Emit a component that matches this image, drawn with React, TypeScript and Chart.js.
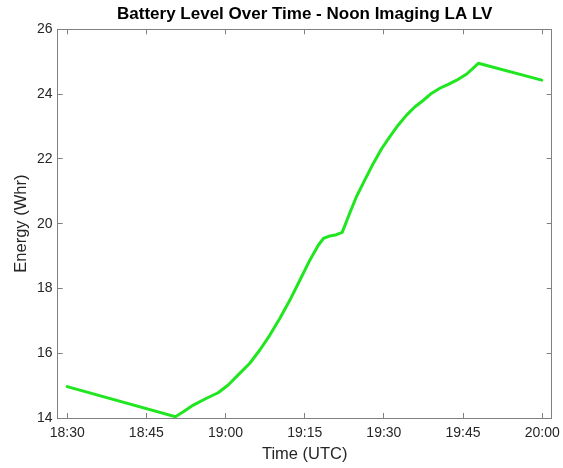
import React, { useEffect, useRef } from "react";
import { Chart, registerables } from "chart.js";

Chart.register(...registerables);

// Data
const times: string[] = [
  "18:30:00", "18:50:30", "18:52:00", "18:53:54", "18:56:24", "18:58:36",
  "19:00:30", "19:02:24", "19:04:36", "19:06:30", "19:08:24", "19:10:18",
  "19:12:12", "19:14:06", "19:16:00", "19:17:36", "19:18:36", "19:19:48",
  "19:21:00", "19:22:06", "19:23:36", "19:24:48", "19:26:24", "19:28:00",
  "19:29:36", "19:31:06", "19:32:42", "19:34:18", "19:35:54", "19:37:30",
  "19:39:00", "19:40:36", "19:42:12", "19:43:48", "19:45:42", "19:47:54",
  "19:59:54",
];
const energy: number[] = [
  14.97, 14.04, 14.19, 14.4, 14.61, 14.78,
  15.02, 15.33, 15.69, 16.1, 16.56, 17.08,
  17.64, 18.26, 18.88, 19.34, 19.55, 19.62,
  19.66, 19.73, 20.35, 20.83, 21.35, 21.86,
  22.32, 22.68, 23.04, 23.35, 23.61, 23.81,
  24.02, 24.18, 24.3, 24.43, 24.62, 24.95,
  24.43,
];
const xTickLabels: string[] = ["18:30", "18:45", "19:00", "19:15", "19:30", "19:45", "20:00"];
const yTicks: number[] = [14, 16, 18, 20, 22, 24, 26];
const xRange: string[] = ["18:28:12", "20:01:48"];
const yRange: number[] = [14, 26];

const toMin = (t: string): number => {
  const p = t.split(":").map(Number);
  return p[0] * 60 + p[1] + (p[2] || 0) / 60;
};
const fmt = (v: number): string => {
  const h = Math.floor(v / 60);
  const m = Math.round(v - h * 60);
  return `${h}:${String(m).padStart(2, "0")}`;
};

const FONT = "'Liberation Sans', Arial, Helvetica, sans-serif";
const AXIS_GRAY = "#808080";
const TEXT = "#262626";

export default function App() {
  const ref = useRef<HTMLCanvasElement | null>(null);
  useEffect(() => {
    if (!ref.current) return;
    const xTickVals = xTickLabels.map(toMin);
    const points = times.map((t, i) => ({ x: toMin(t), y: energy[i] }));
    const xmin = toMin(xRange[0]);
    const xmax = toMin(xRange[1]);
    const gridCommon = {
      drawOnChartArea: false,
      drawTicks: true,
      tickLength: -5,
      color: AXIS_GRAY,
      lineWidth: 1,
    };
    const borderCommon = { display: true, color: AXIS_GRAY, width: 1 };
    const setXTicks = (s: any) => {
      s.ticks = xTickVals.map((v) => ({ value: v }));
    };
    const setYTicks = (s: any) => {
      s.ticks = yTicks.map((v) => ({ value: v }));
    };
    const chart = new Chart(ref.current, {
      type: "line",
      data: {
        datasets: [
          {
            data: points,
            borderColor: "#1fe61f",
            borderWidth: 3,
            borderJoinStyle: "round",
            borderCapStyle: "round",
            pointRadius: 0,
            tension: 0,
            fill: false,
          },
        ],
      },
      options: {
        animation: false,
        responsive: false,
        devicePixelRatio: 1,
        layout: { padding: 0 },
        plugins: {
          legend: { display: false },
          tooltip: { enabled: false },
          title: {
            display: true,
            text: "Battery Level Over Time - Noon Imaging LA LV",
            fullSize: false,
            color: "#000",
            font: { family: FONT, size: 17, weight: "bold" },
            padding: { top: 3.8, bottom: 5.1 },
          },
        },
        scales: {
          x: {
            type: "linear",
            position: "bottom",
            min: xmin,
            max: xmax,
            afterBuildTicks: setXTicks,
            afterFit: (s: any) => {
              s.height = 50;
              s.paddingLeft = 0;
              s.paddingRight = 0;
            },
            grid: gridCommon,
            border: borderCommon,
            ticks: {
              autoSkip: false,
              maxRotation: 0,
              padding: 12.2,
              color: TEXT,
              font: { family: FONT, size: 14 },
              callback: (v: any) => fmt(Number(v)),
            },
            title: {
              display: true,
              text: "Time (UTC)",
              color: TEXT,
              font: { family: FONT, size: 16.5 },
              padding: { top: 0, bottom: 4 },
            },
          },
          x2: {
            type: "linear",
            position: "top",
            min: xmin,
            max: xmax,
            afterBuildTicks: setXTicks,
            afterFit: (s: any) => {
              s.height = 0;
              s.paddingLeft = 0;
              s.paddingRight = 0;
            },
            grid: gridCommon,
            border: borderCommon,
            ticks: { display: false },
          },
          y: {
            type: "linear",
            position: "left",
            min: yRange[0],
            max: yRange[1],
            afterBuildTicks: setYTicks,
            afterFit: (s: any) => {
              s.width = 57.7;
              s.paddingTop = 0;
              s.paddingBottom = 0;
            },
            grid: gridCommon,
            border: borderCommon,
            ticks: {
              padding: 10.2,
              color: TEXT,
              font: { family: FONT, size: 14 },
            },
            title: {
              display: true,
              text: "Energy (Whr)",
              color: TEXT,
              font: { family: FONT, size: 16.5 },
              padding: { top: 11.4, bottom: 0 },
            },
          },
          y2: {
            type: "linear",
            position: "right",
            min: yRange[0],
            max: yRange[1],
            afterBuildTicks: setYTicks,
            afterFit: (s: any) => {
              s.width = 11.3;
              s.paddingTop = 0;
              s.paddingBottom = 0;
            },
            grid: gridCommon,
            border: borderCommon,
            ticks: { display: false },
          },
        },
      },
    } as any);
    return () => chart.destroy();
  }, []);
  return (
    <div style={{ position: "absolute", left: 0, top: 0, width: 563, height: 468, background: "#fff" }}>
      <canvas ref={ref} width={563} height={468} />
    </div>
  );
}
